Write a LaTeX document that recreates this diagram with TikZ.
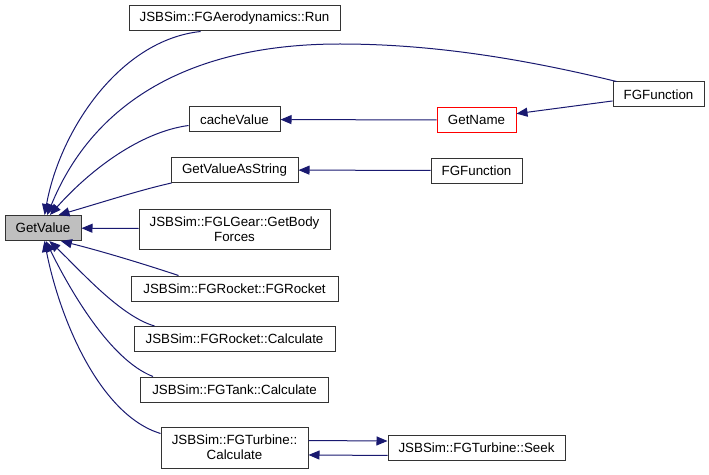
\documentclass[tikz,border=0pt]{standalone}
\usepackage{fontspec}
\setmainfont{Liberation Sans}
\usetikzlibrary{arrows.meta,positioning}

\definecolor{edgeblue}{HTML}{191970}

\begin{document}
\begin{tikzpicture}[x=0.75pt, y=-0.75pt, >={Triangle[length=8.25pt,width=6.75pt]}]
        \tikzset{fn/.style={rectangle, draw=black!80, line width=0.75pt, align=center, minimum height=18.75pt, inner sep=0pt, fill=white, font=\fontsize{10pt}{11pt}\selectfont},
                 edge/.style={->, draw=edgeblue, line width=0.75pt}}
        \useasboundingbox (0,0) rectangle (709,474);
        % callee
        \node[fn, fill=black!25, minimum width=57pt] (getvalue) at (43,228) {GetValue};
        % callers, first column
        \node[fn, minimum width=158.25pt] (aerorun) at (234.5,18.5) {JSBSim::FGAerodynamics::Run};
        \node[fn, minimum width=68.25pt] (cachevalue) at (234.5,119.5) {cacheValue};
        \node[fn, minimum width=95.25pt] (valuestring) at (234.5,170) {GetValueAsString};
        \node[fn, minimum width=143.25pt, minimum height=30pt] (getbody) at (234.5,229) {JSBSim::FGLGear::GetBody\\Forces};
        \node[fn, minimum width=155.25pt] (rocketctor) at (234.5,288.5) {JSBSim::FGRocket::FGRocket};
        \node[fn, minimum width=150.75pt] (rocketcalc) at (234.5,339) {JSBSim::FGRocket::Calculate};
        \node[fn, minimum width=141pt] (tankcalc) at (234.5,389.5) {JSBSim::FGTank::Calculate};
        \node[fn, minimum width=110.25pt, minimum height=30.75pt] (turbcalc) at (234.5,447.5) {JSBSim::FGTurbine::\\Calculate};
        % second and third column
        \node[fn, draw=red, minimum width=59.25pt] (getname) at (476.5,120) {GetName};
        \node[fn, minimum width=68.25pt] (fnmid) at (476.5,170.5) {FGFunction};
        \node[fn, minimum width=132.75pt] (turbseek) at (476.5,448) {JSBSim::FGTurbine::Seek};
        \node[fn, minimum width=68.25pt] (fnright) at (658.5,94.5) {FGFunction};
        \coordinate (fnbend) at (340,44);

        \draw[edge] (aerorun.201) .. controls (120,40) and (60,130) .. (getvalue.83);
        \draw[-, draw=edgeblue, line width=0.75pt] (fnright.north west) ++(4,0) .. controls (520,58) and (430,44) .. (fnbend);
        \draw[edge] (fnbend) .. controls (180,44) and (90,110) .. (getvalue.72);
        \draw[edge] (cachevalue.west) ++(0,6) .. controls (140,132) and (90,170) .. (getvalue.62);
        \draw[edge] (valuestring.south west) ++(1,0) .. controls (140,190) and (100,203) .. (getvalue.40);
        \draw[edge] (getbody) -- (getvalue);
        \draw[edge] (rocketctor.north west) ++(48,0) .. controls (150,266) and (105,252) .. (getvalue.-36);
        \draw[edge] (rocketcalc.north west) ++(21,0) .. controls (120,316) and (80,270) .. (getvalue.-64);
        \draw[edge] (tankcalc.north west) ++(13,0) .. controls (110,360) and (70,290) .. (getvalue.-78);
        \draw[edge] (turbcalc.west) ++(0,-14) .. controls (100,415) and (60,320) .. (getvalue.-84);
        \draw[edge] (getname) -- (cachevalue);
        \draw[edge] (fnright.188) -- (getname.9);
        \draw[edge] (fnmid) -- (valuestring);
        \draw[edge] ([yshift=5.25pt]turbcalc.east) -- ([yshift=5.25pt]turbseek.west);
        \draw[edge] ([yshift=-5.6pt]turbseek.west) -- ([yshift=-5.6pt]turbcalc.east);
    \end{tikzpicture}
\end{document}
